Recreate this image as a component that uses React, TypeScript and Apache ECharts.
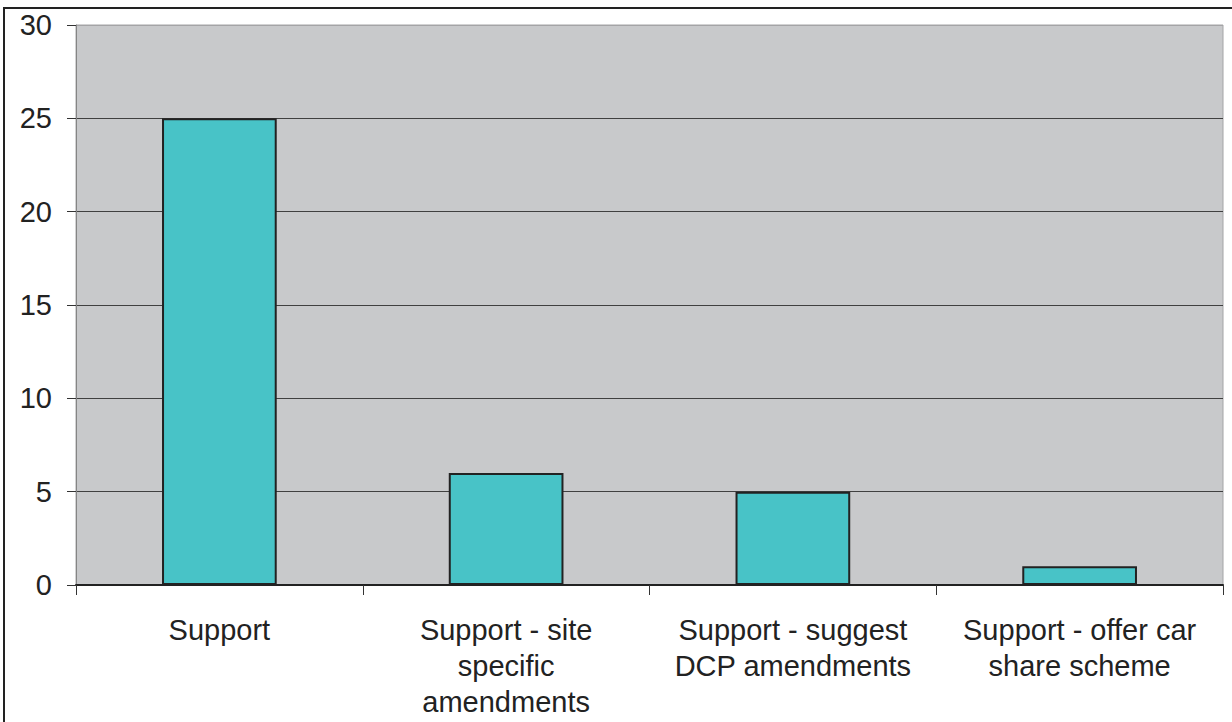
import React, { useEffect, useRef } from "react";
import * as echarts from "echarts";

const categories = [
  "Support",
  "Support - site\nspecific\namendments",
  "Support - suggest\nDCP amendments",
  "Support - offer car\nshare scheme",
];
const values = [25, 6, 5, 1];
const yTicks = [0, 5, 10, 15, 20, 25, 30];

export default function App() {
  const ref = useRef<HTMLDivElement>(null);
  useEffect(() => {
    if (!ref.current) return;
    const chart = echarts.init(ref.current, null, { renderer: "svg" });
    const font = "'Liberation Sans', Arial, sans-serif";
    chart.setOption({
      animation: false,
      backgroundColor: "#ffffff",
      grid: {
        left: 76,
        top: 25,
        right: 9,
        bottom: 137,
        show: true,
        backgroundColor: "#c8c9cb",
        borderColor: "#a4a4a6",
        borderWidth: 1,
      },
      xAxis: {
        type: "category",
        data: categories,
        axisLine: { show: true, lineStyle: { color: "#222222", width: 2 } },
        axisTick: {
          show: true,
          alignWithLabel: false,
          length: 10,
          lineStyle: { color: "#333333", width: 1 },
        },
        axisLabel: {
          color: "#222222",
          fontFamily: font,
          fontSize: 29,
          lineHeight: 36,
          margin: 27,
          interval: 0,
          align: "center",
        },
        splitLine: { show: false },
      },
      yAxis: {
        type: "value",
        min: yTicks[0],
        max: yTicks[yTicks.length - 1],
        interval: 5,
        axisLine: { show: true, lineStyle: { color: "#858585", width: 1 } },
        axisTick: { show: true, length: 9, lineStyle: { color: "#333333", width: 1 } },
        axisLabel: {
          color: "#222222",
          fontFamily: font,
          fontSize: 29,
          margin: 24,
        },
        splitLine: {
          show: true,
          lineStyle: {
            color: [
              "#404040",
              "#404040",
              "#404040",
              "#404040",
              "#404040",
              "#404040",
              "#a4a4a6",
            ],
            width: 1,
          },
        },
      },
      series: [
        {
          type: "bar",
          data: values,
          barWidth: "40%",
          itemStyle: {
            color: "#48c3c7",
            borderColor: "#222222",
            borderWidth: 2,
          },
        },
      ],
      graphic: [
        {
          type: "line",
          shape: { x1: 4, y1: 8, x2: 4, y2: 730 },
          style: { stroke: "#222222", lineWidth: 2 },
          silent: true,
        },
        {
          type: "line",
          shape: { x1: 3, y1: 8, x2: 1240, y2: 8 },
          style: { stroke: "#222222", lineWidth: 2 },
          silent: true,
        },
      ],
    });
    return () => chart.dispose();
  }, []);
  return (
    <div
      ref={ref}
      style={{ position: "fixed", left: 0, top: 0, width: 1232, height: 722 }}
    />
  );
}
